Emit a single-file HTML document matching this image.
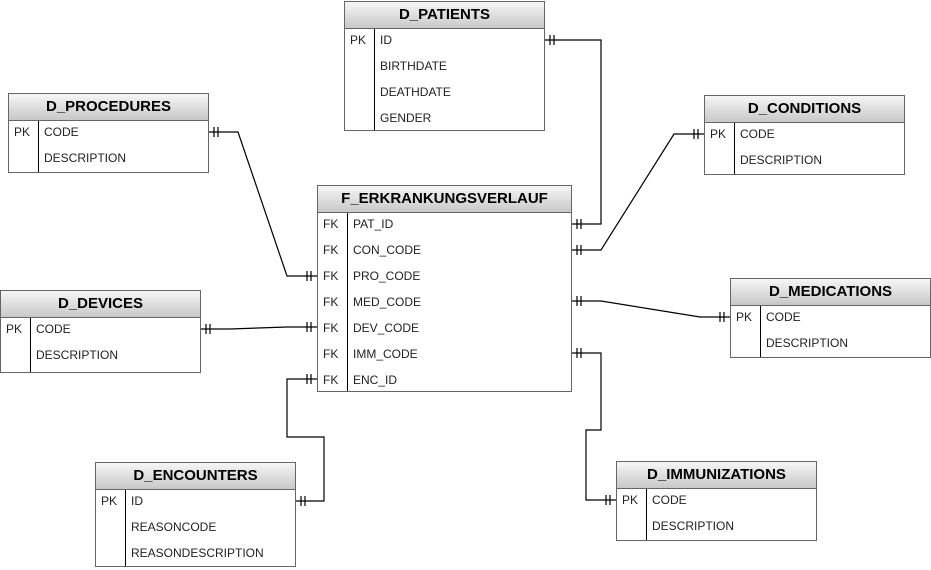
<!DOCTYPE html>
<html><head><meta charset="utf-8"><style>
body{margin:0;width:931px;height:570px;background:#fff;position:relative;overflow:hidden;font-family:"Liberation Sans",Arial,sans-serif}
.t{position:absolute;border:1px solid #666;background:#fff;box-sizing:border-box}
.h{height:26px;line-height:26px;text-align:center;font-weight:bold;font-size:15px;color:#000;background:linear-gradient(#f6f6f6,#c8c8c8);border-bottom:1px solid #666}
.r{position:relative;top:-2px;height:26px;line-height:26px;font-size:12px;color:#222}
.k{position:absolute;left:5px}
.n{position:absolute;left:35px}
.d{position:absolute;left:29px;top:27px;bottom:0;border-left:1px solid #000}
svg{position:absolute;left:0;top:0}
</style></head><body>
<svg width="931" height="570" fill="none" stroke="#000" stroke-width="1.2">
<polyline points="544,40 601,40 601,224 571,224"/>
<polyline points="571,250 601,250 674,134 704,134"/>
<polyline points="208,132 238,132 287,276 317,276"/>
<polyline points="571,301 601,301 700,317 730,317"/>
<polyline points="200,329 230,329 287,327 317,327"/>
<polyline points="571,353 601,353 601,430 586,430 586,500 616,500"/>
<polyline points="317,379 287,379 287,437 324,437 324,501 295,501"/>
<g>
<path d="M550,35v10M554,35v10"/>
<path d="M577,219v10M581,219v10"/>
<path d="M577,245v10M581,245v10"/>
<path d="M698,129v10M694,129v10"/>
<path d="M214,127v10M218,127v10"/>
<path d="M311,271v10M307,271v10"/>
<path d="M577,296v10M581,296v10"/>
<path d="M724,312v10M720,312v10"/>
<path d="M206,324v10M210,324v10"/>
<path d="M311,322v10M307,322v10"/>
<path d="M577,348v10M581,348v10"/>
<path d="M610,495v10M606,495v10"/>
<path d="M311,374v10M307,374v10"/>
<path d="M301,496v10M305,496v10"/>
</g>
</svg>
<div class="t" style="left:344px;top:1px;width:201px;height:130px"><div class="h">D_PATIENTS</div><div class="d"></div>
<div class="r"><span class="k">PK</span><span class="n">ID</span></div><div class="r"><span class="n">BIRTHDATE</span></div><div class="r"><span class="n">DEATHDATE</span></div><div class="r"><span class="n">GENDER</span></div></div>
<div class="t" style="left:8px;top:93px;width:201px;height:80px"><div class="h">D_PROCEDURES</div><div class="d"></div>
<div class="r"><span class="k">PK</span><span class="n">CODE</span></div><div class="r"><span class="n">DESCRIPTION</span></div></div>
<div class="t" style="left:704px;top:95px;width:201px;height:80px"><div class="h">D_CONDITIONS</div><div class="d"></div>
<div class="r"><span class="k">PK</span><span class="n">CODE</span></div><div class="r"><span class="n">DESCRIPTION</span></div></div>
<div class="t" style="left:317px;top:185px;width:255px;height:207px"><div class="h">F_ERKRANKUNGSVERLAUF</div><div class="d"></div>
<div class="r"><span class="k">FK</span><span class="n">PAT_ID</span></div><div class="r"><span class="k">FK</span><span class="n">CON_CODE</span></div><div class="r"><span class="k">FK</span><span class="n">PRO_CODE</span></div><div class="r"><span class="k">FK</span><span class="n">MED_CODE</span></div><div class="r"><span class="k">FK</span><span class="n">DEV_CODE</span></div><div class="r"><span class="k">FK</span><span class="n">IMM_CODE</span></div><div class="r"><span class="k">FK</span><span class="n">ENC_ID</span></div></div>
<div class="t" style="left:0px;top:290px;width:201px;height:83px"><div class="h">D_DEVICES</div><div class="d"></div>
<div class="r"><span class="k">PK</span><span class="n">CODE</span></div><div class="r"><span class="n">DESCRIPTION</span></div></div>
<div class="t" style="left:730px;top:278px;width:201px;height:80px"><div class="h">D_MEDICATIONS</div><div class="d"></div>
<div class="r"><span class="k">PK</span><span class="n">CODE</span></div><div class="r"><span class="n">DESCRIPTION</span></div></div>
<div class="t" style="left:95px;top:462px;width:201px;height:105px"><div class="h">D_ENCOUNTERS</div><div class="d"></div>
<div class="r"><span class="k">PK</span><span class="n">ID</span></div><div class="r"><span class="n">REASONCODE</span></div><div class="r"><span class="n">REASONDESCRIPTION</span></div></div>
<div class="t" style="left:616px;top:461px;width:201px;height:80px"><div class="h">D_IMMUNIZATIONS</div><div class="d"></div>
<div class="r"><span class="k">PK</span><span class="n">CODE</span></div><div class="r"><span class="n">DESCRIPTION</span></div></div>
</body></html>
